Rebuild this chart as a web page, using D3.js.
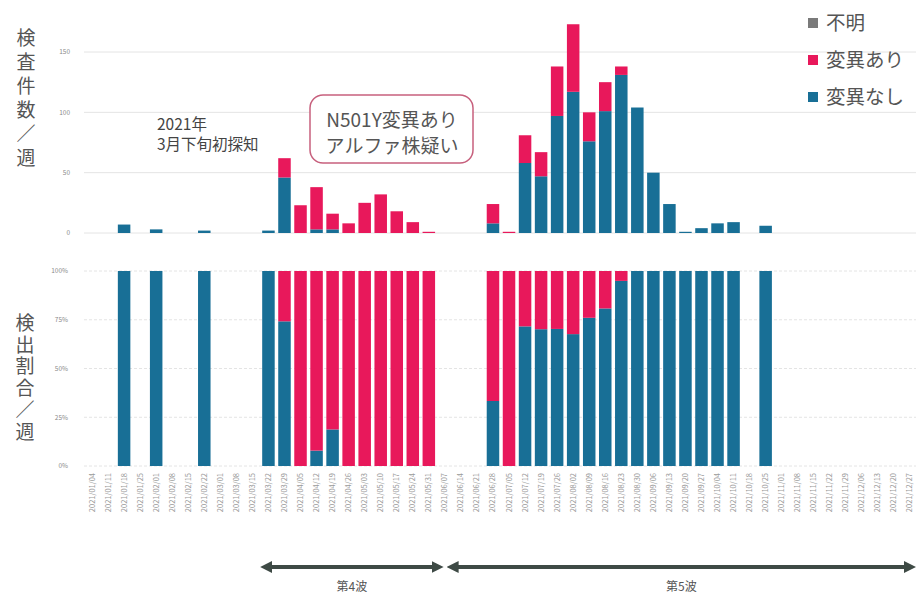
<!DOCTYPE html>
<html><head><meta charset="utf-8">
<script src="https://cdn.jsdelivr.net/npm/d3@7"></script>
<style>
html,body{margin:0;padding:0;background:#fff;}
svg{display:block;font-family:"Noto Sans CJK JP","Noto Sans",sans-serif;}
.vt{writing-mode:vertical-rl;text-orientation:upright;font-feature-settings:"vert" 0;}
</style></head>
<body><svg id="chart" width="916" height="597"></svg>
<script>
// ---- data ----
const weeks = [
 "2021/01/04","2021/01/11","2021/01/18","2021/01/25","2021/02/01","2021/02/08","2021/02/15","2021/02/22",
 "2021/03/01","2021/03/08","2021/03/15","2021/03/22","2021/03/29","2021/04/05","2021/04/12","2021/04/19",
 "2021/04/26","2021/05/03","2021/05/10","2021/05/17","2021/05/24","2021/05/31","2021/06/07","2021/06/14",
 "2021/06/21","2021/06/28","2021/07/05","2021/07/12","2021/07/19","2021/07/26","2021/08/02","2021/08/09",
 "2021/08/16","2021/08/23","2021/08/30","2021/09/06","2021/09/13","2021/09/20","2021/09/27","2021/10/04",
 "2021/10/11","2021/10/18","2021/10/25","2021/11/01","2021/11/08","2021/11/15","2021/11/22","2021/11/29",
 "2021/12/06","2021/12/13","2021/12/20","2021/12/27"];
// 変異なし (no N501Y)
const noMutation = [0,0,7,0,3,0,0,2, 0,0,0,2,46,0,3,3, 0,0,0,0,0,0,0,0, 0,8,0,58,47,97,117,76,
 101,131,104,50,24,1,4,8, 9,0,6,0,0,0,0,0, 0,0,0,0];
// 変異あり (N501Y)
const withMutation = [0,0,0,0,0,0,0,0, 0,0,0,0,16,23,35,13, 8,25,32,18,9,1,0,0, 0,16,1,23,20,41,56,24,
 24,7,0,0,0,0,0,0, 0,0,0,0,0,0,0,0, 0,0,0,0];
// 不明 (unknown)
const unknown = [0,0,0,0,0,0,0,0, 0,0,0,0,0,0,0,0, 0,0,0,0,0,0,0,0, 0,0,0,0,0,0,0,0,
 0,0,0,0,0,0,0,0, 0,0,0,0,0,0,0,0, 0,0,0,0];
const countTicks = [0,50,100,150];
const countTickLabels = ["0","50","100","150"];
const pctTicks = [0,0.25,0.5,0.75,1];
const pctTickLabels = ["0%","25%","50%","75%","100%"];
const seriesNames = ["不明","変異あり","変異なし"];
const waveNames = ["第4波","第5波"];

// ---- build ----
const colors = {noMut:"#186f96", mut:"#e8185b", unk:"#7a7a7a"};
const rows = weeks.map((w,i)=>({week:w, noMut:noMutation[i], mut:withMutation[i], unk:unknown[i]}));
const svg = d3.select("#chart");

const x = d3.scaleBand().domain(weeks).range([84,918]).paddingInner(0.22).paddingOuter(0.11);
const yTop = d3.scaleLinear().domain([0,150]).range([233,52]);
const yBot = d3.scaleLinear().domain([0,1]).range([466,271]);

// gridlines
svg.append("g").selectAll("line").data(countTicks).join("line")
  .attr("x1",84).attr("x2",916).attr("y1",d=>yTop(d)).attr("y2",d=>yTop(d))
  .attr("stroke","#e4e4e4").attr("stroke-width",1);
svg.append("g").selectAll("line").data(pctTicks).join("line")
  .attr("x1",84).attr("x2",916).attr("y1",d=>yBot(d)).attr("y2",d=>yBot(d))
  .attr("stroke","#e4e4e4").attr("stroke-width",1).attr("stroke-dasharray","3,2");

// tick labels
svg.append("g").selectAll("text").data(countTicks).join("text")
  .attr("x",70).attr("y",d=>yTop(d)).attr("dy","0.35em").attr("text-anchor","end")
  .attr("font-size",6.5).attr("fill","#8a8a8a").text((d,i)=>countTickLabels[i]);
svg.append("g").selectAll("text").data(pctTicks).join("text")
  .attr("x",68).attr("y",d=>yBot(d)).attr("dy","0.35em").attr("text-anchor","end")
  .attr("font-size",6.5).attr("fill","#8a8a8a").text((d,i)=>pctTickLabels[i]);

// top stacked counts
const stackTop = d3.stack().keys(["noMut","mut","unk"])(rows);
svg.append("g").selectAll("g").data(stackTop).join("g")
  .attr("fill",d=>colors[d.key])
  .selectAll("rect").data(d=>d).join("rect")
  .attr("x",d=>x(d.data.week)).attr("width",x.bandwidth())
  .attr("y",d=>yTop(d[1])).attr("height",d=>Math.max(0,yTop(d[0])-yTop(d[1])));

// bottom ratio (expand)
const stackBot = d3.stack().keys(["noMut","mut"]).offset(d3.stackOffsetExpand)(rows);
svg.append("g").selectAll("g").data(stackBot).join("g")
  .attr("fill",d=>colors[d.key])
  .selectAll("rect").data(d=>d.filter(p=>p.data.noMut+p.data.mut>0)).join("rect")
  .attr("x",d=>x(d.data.week)).attr("width",x.bandwidth())
  .attr("y",d=>yBot(d[1])).attr("height",d=>Math.max(0,yBot(d[0])-yBot(d[1])));

// x axis labels (rotated)
svg.append("g").selectAll("text").data(weeks).join("text")
  .attr("transform",d=>`translate(${x(d)+x.bandwidth()/2+2.5},473) rotate(-90)`)
  .attr("text-anchor","end").attr("font-size",7.5).attr("fill","#9a9a9a").text(d=>d);

// y axis titles (vertical writing, single text element each)
svg.append("text").attr("class","vt").attr("x",26).attr("y",28)
  .attr("font-size",19).attr("letter-spacing",5).attr("fill","#555").text("検査件数／週");
svg.append("text").attr("class","vt").attr("x",25).attr("y",313)
  .attr("font-size",19).attr("letter-spacing",2.8).attr("fill","#555").text("検出割合／週");

// legend
const legKeys = ["unk","mut","noMut"];
const leg = svg.append("g").selectAll("g").data(seriesNames).join("g")
  .attr("transform",(d,i)=>`translate(808,${23+i*37})`);
leg.append("rect").attr("x",0).attr("y",-5).attr("width",10).attr("height",10).attr("fill",(d,i)=>colors[legKeys[i]]);
leg.append("text").attr("x",18).attr("y",0).attr("dy","0.36em").attr("font-size",19.5).attr("fill","#555").text(d=>d);

// annotations
svg.append("text").attr("font-size",15.5).attr("fill","#444")
  .selectAll("tspan").data(["2021年","3月下旬初探知"]).join("tspan")
  .attr("x",157).attr("y",(d,i)=>125+i*20).attr("dy","0.35em").text(d=>d);
svg.append("rect").attr("x",310).attr("y",95).attr("width",163).attr("height",68).attr("rx",13)
  .attr("fill","#fff").attr("stroke","#c7607d").attr("stroke-width",1.5);
svg.append("text").attr("font-size",19).attr("fill","#555").attr("text-anchor","middle")
  .selectAll("tspan").data(["N501Y変異あり","アルファ株疑い"]).join("tspan")
  .attr("x",392).attr("y",(d,i)=>120+i*26).attr("dy","0.35em").text(d=>d);

// wave arrows
const defs = svg.append("defs");
defs.append("marker").attr("id","ah").attr("viewBox","0 0 10 10").attr("refX",5).attr("refY",5)
  .attr("markerWidth",3).attr("markerHeight",3).attr("orient","auto-start-reverse")
  .append("path").attr("d","M0,0 L10,5 L0,10 z").attr("fill","#3e4a45");
const waves = [[x(weeks[11]), x(weeks[22])+3], [x(weeks[22])+10, 914]];
svg.append("g").selectAll("line").data(waves).join("line")
  .attr("x1",d=>d[0]+4).attr("x2",d=>d[1]-4).attr("y1",567).attr("y2",567)
  .attr("stroke","#3e4a45").attr("stroke-width",4)
  .attr("marker-start","url(#ah)").attr("marker-end","url(#ah)");
svg.append("g").selectAll("text").data(waves).join("text")
  .attr("x",d=>(d[0]+d[1])/2).attr("y",591).attr("text-anchor","middle")
  .attr("font-size",12).attr("fill","#555").text((d,i)=>waveNames[i]);
</script></body></html>
